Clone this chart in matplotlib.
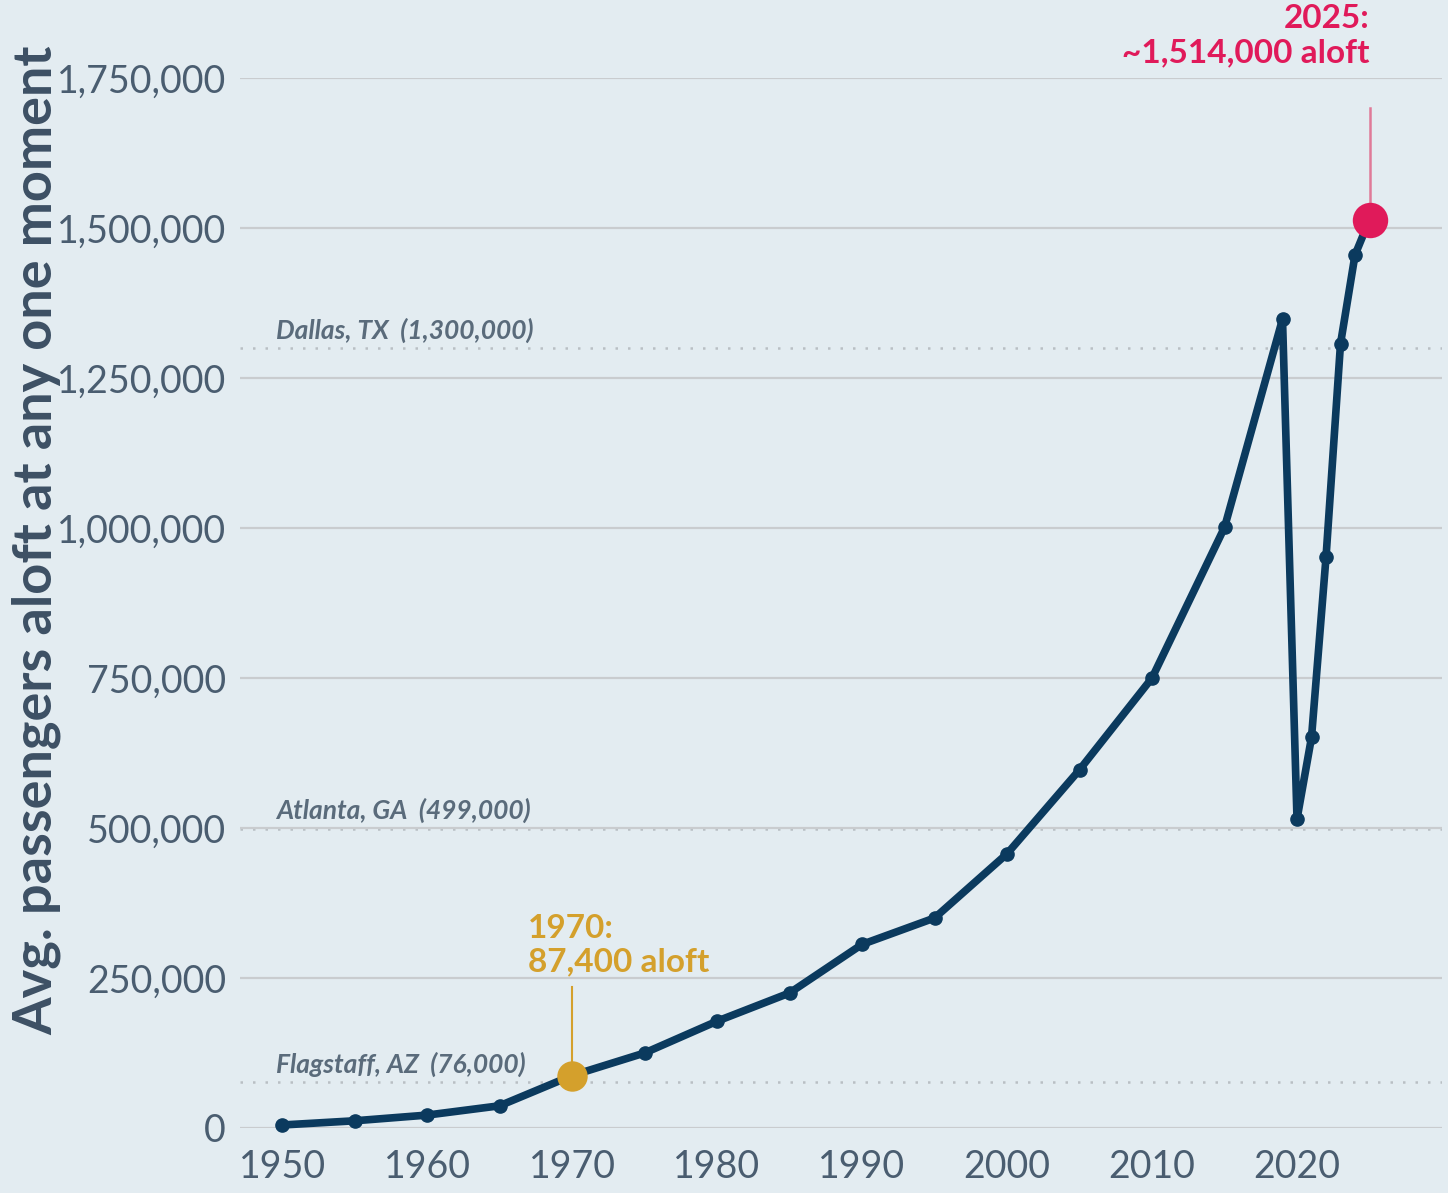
import matplotlib.pyplot as plt
from matplotlib.ticker import FuncFormatter

# average passengers aloft at any one moment
years = [1950, 1955, 1960, 1965, 1970, 1975, 1980, 1985, 1990, 1995, 2000,
         2005, 2010, 2015, 2019, 2020, 2021, 2022, 2023, 2024, 2025]
aloft = [5000, 12000, 21500, 37000, 87400, 125000, 178000, 225000, 306000, 350000, 457000,
         597000, 750000, 1001000, 1348000, 515000, 651000, 951000, 1307000, 1455000, 1514000]

# reference cities
city_names = ["Dallas, TX  (1,300,000)", "Atlanta, GA  (499,000)", "Flagstaff, AZ  (76,000)"]
city_pops = [1300000, 499000, 76000]

y_ticks = [0, 250000, 500000, 750000, 1000000, 1250000, 1500000, 1750000]
x_ticks = [1950, 1960, 1970, 1980, 1990, 2000, 2010, 2020]

BG = "#e3ecf1"
NAVY = "#0b3a5e"
GOLD = "#d4a02c"
RED = "#e01a5a"
TEXT = "#4a5d70"
GRID = "#c9cccf"
FONT = ["Lato", "DejaVu Sans"]

fig = plt.figure(figsize=(14.48, 11.93), dpi=100, facecolor=BG)
ax = fig.add_axes([240 / 1448, 65 / 1193, 1202 / 1448, 1050 / 1193])
ax.set_facecolor(BG)

ax.set_xlim(1947.1, 2030)
ax.set_ylim(0, 1750000)

for sp in ax.spines.values():
    sp.set_visible(False)

ax.set_yticks(y_ticks)
ax.set_xticks(x_ticks)
ax.yaxis.set_major_formatter(FuncFormatter(lambda v, p: f"{int(v):,}"))
ax.tick_params(length=0, labelsize=27, labelcolor=TEXT)
ax.tick_params(axis="y", pad=10)
ax.tick_params(axis="x", pad=15)
for lab in ax.get_xticklabels() + ax.get_yticklabels():
    lab.set_fontfamily(FONT)
ax.grid(axis="y", color=GRID, linewidth=1.6, zorder=0)
ax.grid(axis="x", visible=False)

# reference city lines
for name, pop in zip(city_names, city_pops):
    ax.axhline(pop, color="#b9bfc4", linewidth=1.8, linestyle=(0, (1, 4)), zorder=1)
    ax.text(1949.6, pop + 9000, name, fontsize=19, style="italic", fontweight="bold",
            color="#5a6b7b", fontfamily=FONT, va="bottom", ha="left")

# main series
ax.plot(years, aloft, color=NAVY, linewidth=5.5, marker="o", markersize=9.5,
        solid_joinstyle="round", zorder=3, clip_on=False)

# 1970 highlight
ax.plot([1970, 1970], [87400, 235000], color=GOLD, linewidth=1.5, zorder=2)
ax.scatter([1970], [87400], s=480, color=GOLD, zorder=4, linewidths=0)
ax.text(1966.95, 252000, "1970:\n87,400 aloft", color=GOLD, fontsize=24, fontweight="bold",
        fontfamily=FONT, ha="left", va="bottom", linespacing=1.2)

# 2025 highlight
ax.plot([2025, 2025], [1514000, 1700000], color="#e07a98", linewidth=1.8, zorder=2)
ax.scatter([2025], [1514000], s=650, color=RED, zorder=4, linewidths=0, clip_on=False)
ax.text(2025, 1768000, "2025:\n~1,514,000 aloft", color=RED, fontsize=24, fontweight="bold",
        fontfamily=FONT, ha="right", va="bottom", linespacing=1.2)

fig.text(37 / 1448, 1 - 540 / 1193, "Avg. passengers aloft at any one moment",
         rotation=90, ha="center", va="center", fontsize=39, fontweight="bold",
         color="#3d5064", fontfamily=FONT)

fig.savefig("out.png", dpi=100, facecolor=BG)
